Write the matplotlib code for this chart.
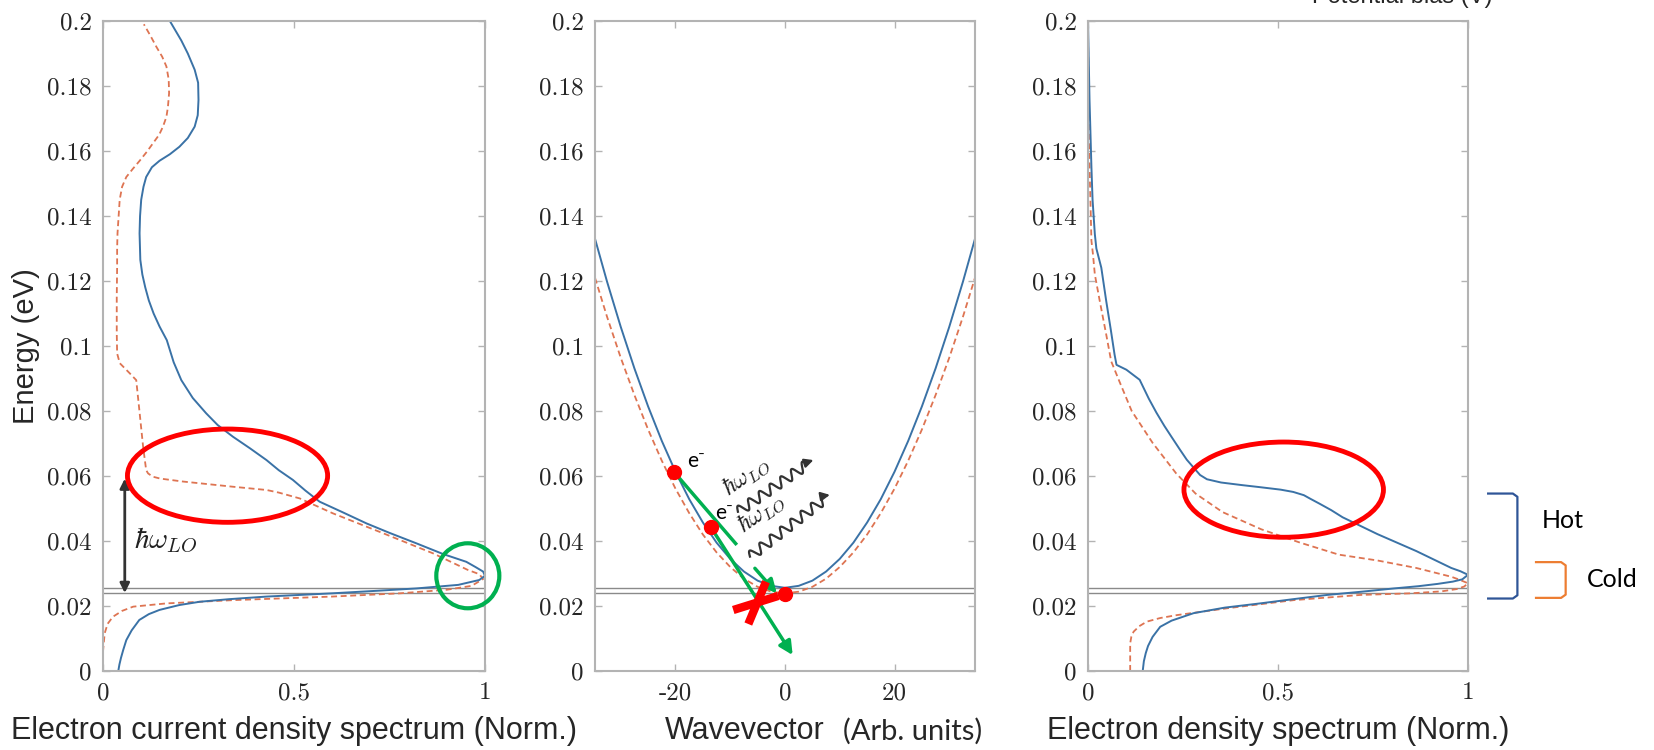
import matplotlib
matplotlib.use('Agg')
import matplotlib.pyplot as plt
import numpy as np
from matplotlib.patches import Ellipse

plt.rcParams['mathtext.fontset'] = 'cm'
plt.rcParams['axes.unicode_minus'] = False

# ---- current density spectrum (left) ----
cur_J_hot = [0.040, 0.043, 0.047, 0.053, 0.061, 0.075, 0.095, 0.12, 0.148, 0.20, 0.253, 0.33,
             0.428, 0.60, 0.72, 0.82, 0.93, 0.985, 1.0, 0.995, 0.975, 0.951, 0.89, 0.82, 0.75,
             0.69, 0.63, 0.567, 0.53, 0.497, 0.46, 0.428, 0.385, 0.34, 0.30, 0.27, 0.235,
             0.205, 0.185, 0.167, 0.148, 0.1325, 0.12, 0.1107, 0.103, 0.0977, 0.0957, 0.097,
             0.100, 0.106, 0.113, 0.128, 0.148, 0.175, 0.20, 0.222, 0.24, 0.248, 0.25, 0.249,
             0.24, 0.222, 0.205, 0.19, 0.175]
cur_E_hot = [0.0, 0.002, 0.004, 0.0065, 0.0095, 0.0125, 0.0157, 0.0175, 0.0188, 0.0203, 0.0213,
             0.0221, 0.0229, 0.0239, 0.0247, 0.0254, 0.0265, 0.028, 0.0293, 0.0306, 0.032,
             0.0336, 0.036, 0.0393, 0.0425, 0.0454, 0.0487, 0.0521, 0.0555, 0.0588, 0.0618,
             0.0649, 0.0685, 0.0721, 0.0757, 0.0793, 0.084, 0.0895, 0.095, 0.1018, 0.106,
             0.110, 0.114, 0.118, 0.122, 0.1265, 0.1347, 0.140, 0.145, 0.149, 0.152, 0.155,
             0.157, 0.159, 0.1613, 0.164, 0.1675, 0.171, 0.1757, 0.181, 0.185, 0.190, 0.194,
             0.197, 0.2]
cur_J_cold = [0.0, 0.0, 0.0044, 0.012, 0.026, 0.05, 0.079, 0.166, 0.34, 0.60, 0.777, 0.90,
              0.965, 0.995, 0.985, 0.955, 0.864, 0.733, 0.602, 0.515, 0.46, 0.428, 0.34,
              0.209, 0.15, 0.13, 0.118, 0.113, 0.105, 0.096, 0.087, 0.07, 0.044, 0.037, 0.036,
              0.036, 0.037, 0.037, 0.038, 0.0437, 0.05, 0.061, 0.078, 0.096, 0.115, 0.131,
              0.147, 0.157, 0.166, 0.17, 0.173, 0.172, 0.166, 0.155, 0.14, 0.124, 0.107]
cur_E_cold = [0.0, 0.006, 0.0116, 0.0145, 0.0167, 0.0185, 0.0198, 0.0208, 0.0218, 0.0229,
              0.0239, 0.025, 0.0262, 0.0283, 0.0298, 0.0311, 0.0362, 0.0424, 0.0485, 0.0531,
              0.0549, 0.0557, 0.0567, 0.0583, 0.0592, 0.0598, 0.0608, 0.0618, 0.069, 0.0793,
              0.0895, 0.0916, 0.0947, 0.0977, 0.104, 0.115, 0.1244, 0.130, 0.1347, 0.145,
              0.149, 0.152, 0.1545, 0.157, 0.1598, 0.1624, 0.165, 0.1675, 0.1705, 0.1736,
              0.1778, 0.182, 0.186, 0.189, 0.192, 0.1955, 0.199]

# ---- dispersion (middle) ----
k_hot = [-34.7, -32.5, -30, -27.5, -25, -22.5, -20, -17.5, -15, -12.5, -10, -7.5, -5, -2.5, 0,
         2.5, 5, 7.5, 10, 12.5, 15, 17.5, 20, 22.5, 25, 27.5, 30, 32.5, 34.7]
disp_hot = [0.133, 0.1198, 0.1059, 0.0931, 0.0814, 0.0708, 0.0613, 0.0529, 0.0457, 0.0395,
            0.0345, 0.0306, 0.0278, 0.0262, 0.0256, 0.0262, 0.0278, 0.0306, 0.0345, 0.0395,
            0.0457, 0.0529, 0.0613, 0.0708, 0.0814, 0.0931, 0.1059, 0.1198, 0.133]
k_cold = k_hot
disp_cold = [0.121, 0.109, 0.0964, 0.0849, 0.0743, 0.0647, 0.0561, 0.0486, 0.042, 0.0365,
             0.032, 0.0284, 0.0259, 0.0244, 0.0239, 0.0244, 0.0259, 0.0284, 0.032, 0.0365,
             0.042, 0.0486, 0.0561, 0.0647, 0.0743, 0.0849, 0.0964, 0.109, 0.121]
electron_k = [-20.3, -13.6, 0.0]
electron_E = [0.0613, 0.0444, 0.0237]

# ---- density spectrum (right) ----
den_n_hot = [0.144, 0.147, 0.152, 0.158, 0.17, 0.19, 0.22, 0.278, 0.36, 0.453, 0.54, 0.629,
             0.72, 0.805, 0.87, 0.92, 0.96, 0.985, 1.0, 0.98, 0.956, 0.864, 0.762, 0.67, 0.64,
             0.609, 0.585, 0.568, 0.54, 0.507, 0.45, 0.405, 0.35, 0.313, 0.295, 0.283, 0.26,
             0.242, 0.22, 0.201, 0.18, 0.16, 0.136, 0.101, 0.075, 0.07, 0.06, 0.048, 0.035,
             0.022, 0.018, 0.012, 0.009, 0.004, 0.0]
den_E_hot = [0.0, 0.003, 0.0055, 0.0077, 0.0105, 0.0136, 0.0155, 0.0178, 0.0195, 0.0208,
             0.0221, 0.0234, 0.0244, 0.0254, 0.0261, 0.0268, 0.0275, 0.0282, 0.0296, 0.0307,
             0.0317, 0.0369, 0.0421, 0.0473, 0.0495, 0.0515, 0.053, 0.0541, 0.0551, 0.0558,
             0.0566, 0.0572, 0.058, 0.059, 0.0603, 0.0619, 0.065, 0.0681, 0.072, 0.0754,
             0.0795, 0.0838, 0.0896, 0.0927, 0.0942, 0.0973, 0.105, 0.1138, 0.1241, 0.130,
             0.1344, 0.145, 0.155, 0.1757, 0.2]
den_n_cold = [0.111, 0.111, 0.114, 0.12, 0.135, 0.155, 0.19, 0.234, 0.366, 0.541, 0.717,
              0.849, 0.93, 0.97, 0.99, 1.0, 0.975, 0.956, 0.864, 0.762, 0.66, 0.558, 0.456,
              0.354, 0.283, 0.232, 0.17, 0.115, 0.083, 0.061, 0.048, 0.031, 0.018, 0.013,
              0.009, 0.002, 0.0]
den_E_cold = [0.0, 0.0085, 0.0105, 0.0121, 0.0138, 0.0152, 0.0163, 0.0172, 0.0193, 0.0218,
              0.0234, 0.0239, 0.0245, 0.0252, 0.026, 0.027, 0.0282, 0.029, 0.0317, 0.034,
              0.0358, 0.0395, 0.0436, 0.0489, 0.0546, 0.0608, 0.0702, 0.080, 0.089, 0.0953,
              0.1035, 0.1138, 0.122, 0.1283, 0.1324, 0.165, 0.199]

E_ticks = [0, 0.02, 0.04, 0.06, 0.08, 0.1, 0.12, 0.14, 0.16, 0.18, 0.2]
E_ticklabels = ['0', '0.02', '0.04', '0.06', '0.08', '0.1', '0.12', '0.14', '0.16', '0.18', '0.2']
subband_E = [0.0256, 0.0239]

BLUE = '#3a72a6'
ORANGE = '#de7452'
SPINE = '#b3b3b3'
TXT = '#262626'
RED = '#ff0000'
GREEN = '#00b050'

W, H = 1654, 750
fig = plt.figure(figsize=(W / 100, H / 100), dpi=100)


def panel(x0, x1, xlim, xticks, xticklabels):
    ax = fig.add_axes([x0 / W, (H - 671) / H, (x1 - x0) / W, 650 / H])
    ax.set_xlim(xlim)
    ax.set_ylim(0, 0.2)
    ax.set_xticks(xticks)
    ax.set_xticklabels(xticklabels, fontfamily='cmr10', fontsize=18, color=TXT)
    ax.set_yticks(E_ticks)
    ax.set_yticklabels(E_ticklabels, fontfamily='cmr10', fontsize=18, color=TXT)
    ax.tick_params(direction='in', length=5, width=1, color=SPINE, top=True, right=True, pad=8)
    for s in ax.spines.values():
        s.set_color(SPINE)
        s.set_linewidth(1.5)
    for e in subband_E:
        ax.axhline(e, color='#8a8a8a', lw=1.0, zorder=1)
    return ax


ax1 = panel(103, 485, (0, 1), [0, 0.5, 1], ['0', '0.5', '1'])
ax2 = panel(595, 975, (-34.7, 34.7), [-20, 0, 20], ['-20', '0', '20'])
ax3 = panel(1088, 1468, (0, 1), [0, 0.5, 1], ['0', '0.5', '1'])

dash = (3.3, 2.0)

# left: current density
ax1.plot(cur_J_cold, cur_E_cold, '--', color=ORANGE, lw=1.3, dashes=dash)
ax1.plot(cur_J_hot, cur_E_hot, color=BLUE, lw=1.4)
ax1.add_patch(Ellipse((0.326, 0.0601), 0.524, 0.0287, fill=False, ec=RED, lw=3.5, clip_on=False, zorder=6))
ax1.add_patch(Ellipse((0.955, 0.0293), 0.165, 0.020, fill=False, ec=GREEN, lw=3, clip_on=False, zorder=6))
ax1.annotate('', xy=(0.057, 0.0592), xytext=(0.057, 0.0240),
             arrowprops=dict(arrowstyle='<|-|>', color='#333333', lw=2, mutation_scale=14,
                             shrinkA=0, shrinkB=0))
ax1.text(0.165, 0.0403, r'$\hbar\omega_{LO}$', fontsize=21, color='#222222', ha='center', va='center')

# middle: dispersion
ax2.plot(k_cold, disp_cold, '--', color=ORANGE, lw=1.3, dashes=dash)
ax2.plot(k_hot, disp_hot, color=BLUE, lw=1.4)

ax2.plot([-20.3, -8.8], [0.0613, 0.0388], color=GREEN, lw=2.5, solid_capstyle='butt', zorder=4)
ax2.annotate('', xy=(-1.5, 0.0239), xytext=(-5.5, 0.0316),
             arrowprops=dict(arrowstyle='-|>', color=GREEN, lw=2.5, mutation_scale=20,
                             shrinkA=0, shrinkB=0), zorder=4)
ax2.annotate('', xy=(1.4, 0.0049), xytext=(-13.6, 0.0444),
             arrowprops=dict(arrowstyle='-|>', color=GREEN, lw=2.5, mutation_scale=20,
                             shrinkA=0, shrinkB=0), zorder=4)
ax2.plot([-9.45, -1.22], [0.01877, 0.0231], color=RED, lw=6, solid_capstyle='butt', zorder=5)
ax2.plot([-6.7, -3.47], [0.01446, 0.02748], color=RED, lw=6, solid_capstyle='butt', zorder=5)
ax2.plot(electron_k, electron_E, 'o', color=RED, ms=10, zorder=6)
ax2.text(-16.3, 0.0646, 'e⁻', fontsize=15, family=['Lato', 'DejaVu Sans'], ha='center', va='center')
ax2.text(-11.2, 0.0487, 'e⁻', fontsize=15, family=['Lato', 'DejaVu Sans'], ha='center', va='center')


def phonon(ax, p0, p1, amp=5.0, wl=13.0):
    # wavy phonon line drawn in pixel space, then mapped back to data
    a = ax.transData.transform(p0)
    b = ax.transData.transform(p1)
    d = b - a
    L = np.hypot(*d)
    u = d / L
    n = np.array([-u[1], u[0]])
    t = np.linspace(0, L - 8, 300)
    pts = a + np.outer(t, u) + np.outer(amp * np.sin(2 * np.pi * t / wl), n)
    dat = ax.transData.inverted().transform(pts)
    ax.plot(dat[:, 0], dat[:, 1], color='#333333', lw=1.6, zorder=4)
    ax.annotate('', xy=p1, xytext=tuple(dat[-1]),
                arrowprops=dict(arrowstyle='-|>', color='#333333', lw=1.6, mutation_scale=13,
                                shrinkA=0, shrinkB=0))


phonon(ax2, (-8.6, 0.0490), (5.2, 0.0649))
phonon(ax2, (-6.4, 0.0352), (8.2, 0.0542))
ax2.text(-7.2, 0.0600, r'$\hbar\omega_{LO}$', fontsize=17, rotation=35, color='#222222',
         ha='center', va='center')
ax2.text(-4.4, 0.0488, r'$\hbar\omega_{LO}$', fontsize=17, rotation=35, color='#222222',
         ha='center', va='center')

# right: density
ax3.plot(den_n_cold, den_E_cold, '--', color=ORANGE, lw=1.3, dashes=dash)
ax3.plot(den_n_hot, den_E_hot, color=BLUE, lw=1.4)
ax3.add_patch(Ellipse((0.515, 0.0558), 0.525, 0.0293, fill=False, ec=RED, lw=3.5, clip_on=False, zorder=6))

# hot / cold brackets
ax3.plot([1.053, 1.118, 1.13, 1.13, 1.118, 1.053],
         [0.0546, 0.0546, 0.0536, 0.0233, 0.0223, 0.0223],
         color='#2f5597', lw=1.6, clip_on=False)
ax3.plot([1.179, 1.245, 1.257, 1.257, 1.245, 1.179],
         [0.0335, 0.0335, 0.0325, 0.0235, 0.0225, 0.0225],
         color='#ed7d31', lw=1.6, clip_on=False)
ax3.text(1.25, 0.0462, 'Hot', fontsize=18, family='Lato', color='black', ha='center', va='center')
ax3.text(1.38, 0.0283, 'Cold', fontsize=18, family='Lato', color='black', ha='center', va='center')

# axis labels
lab = dict(fontsize=22, family='Liberation Sans', color=TXT, va='center')
fig.text(294 / W, 1 - 731 / H, 'Electron current density spectrum (Norm.)', ha='center', **lab)
fig.text(745 / W, 1 - 731 / H, 'Wavevector', ha='center', **lab)
fig.text(913 / W, 1 - 731 / H, '(Arb. units)', fontsize=21, family='Lato', color=TXT,
         ha='center', va='center')
fig.text(1278 / W, 1 - 731 / H, 'Electron density spectrum (Norm.)', ha='center', **lab)
fig.text(26 / W, 1 - 346 / H, 'Energy (eV)', rotation=90, fontsize=21, family='Liberation Sans',
         color=TXT, ha='center', va='center')
fig.text(1402 / W, 1 - 3 / H, 'Potential bias (V)', fontsize=17, family='Liberation Sans',
         color=TXT, ha='center', va='baseline')

fig.savefig('out.png', dpi=100)
